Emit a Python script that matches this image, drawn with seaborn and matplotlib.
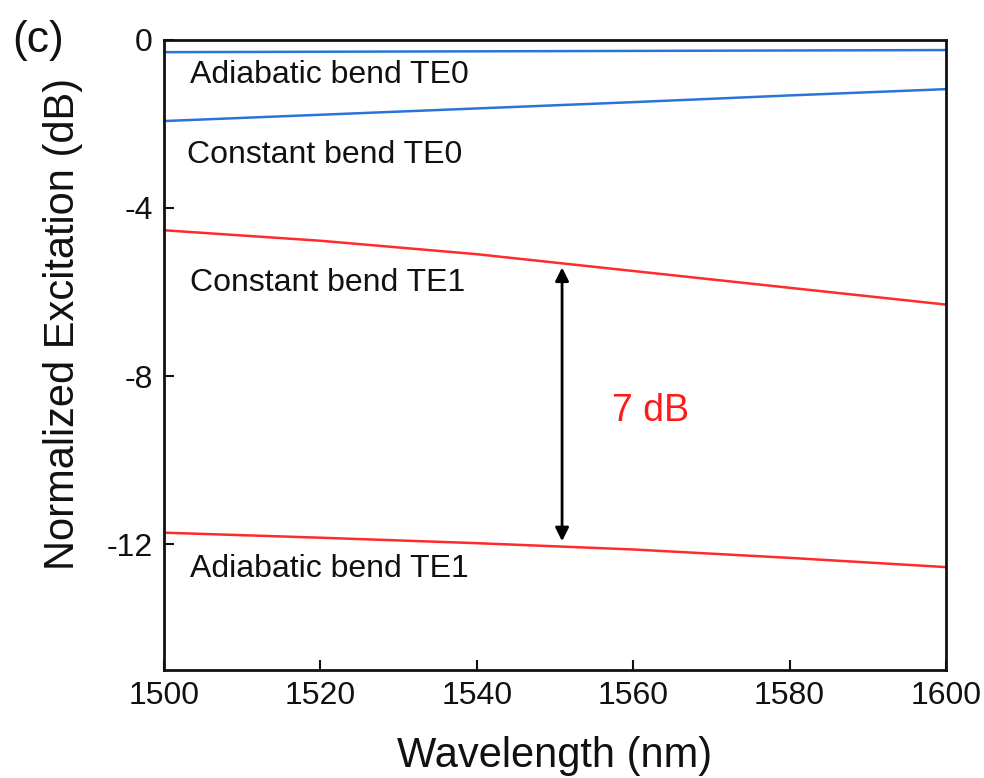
import numpy as np
import pandas as pd
import seaborn as sns
import matplotlib.pyplot as plt

# wavelength samples (nm)
wavelength = [1500, 1520, 1540, 1560, 1580, 1600]

# normalized excitation (dB)
adiabatic_te0 = [-0.29, -0.28, -0.27, -0.26, -0.25, -0.24]
constant_te0 = [-1.93, -1.78, -1.63, -1.48, -1.32, -1.17]
constant_te1 = [-4.53, -4.78, -5.10, -5.50, -5.90, -6.30]
adiabatic_te1 = [-11.73, -11.85, -11.98, -12.13, -12.33, -12.55]

series_names = ["Adiabatic bend TE0", "Constant bend TE0", "Constant bend TE1", "Adiabatic bend TE1"]
series_colors = ["#2a74d9", "#2a74d9", "#ff2a2a", "#ff2a2a"]

df = pd.concat([
    pd.DataFrame({"wl": wavelength, "dB": vals, "curve": name})
    for name, vals in zip(series_names, [adiabatic_te0, constant_te0, constant_te1, adiabatic_te1])
])

sns.set_theme(style="ticks")
plt.rcParams["font.family"] = ["Liberation Sans", "DejaVu Sans"]
plt.rcParams["axes.unicode_minus"] = False

fig = plt.figure(figsize=(9.84, 7.78), dpi=100)
ax = fig.add_axes([0.1667, 0.1388, 0.7947, 0.8098])

sns.lineplot(data=df, x="wl", y="dB", hue="curve", palette=dict(zip(series_names, series_colors)),
             linewidth=1.8, legend=False, ax=ax)

ax.set_xlim(1500, 1600)
ax.set_ylim(-15, 0)
ax.set_xticks([1500, 1520, 1540, 1560, 1580, 1600])
ax.set_yticks([0, -4, -8, -12])
ax.tick_params(direction="in", length=7, width=1.5, labelsize=23, colors="#111111", pad=8)
for s in ax.spines.values():
    s.set_linewidth(2)
    s.set_color("#111111")

ax.set_xlabel("Wavelength (nm)", fontsize=30, color="#111111")
ax.set_ylabel("Normalized Excitation (dB)", fontsize=30, color="#111111")
ax.xaxis.set_label_coords(0.5, -0.104)
ax.yaxis.set_label_coords(-0.104, 0.55)

# curve labels
lab = dict(fontsize=23, va="center", color="#111111")
ax.text(1503.3, -0.84, "Adiabatic bend TE0", **lab)
ax.text(1502.9, -2.74, "Constant bend TE0", **lab)
ax.text(1503.3, -5.78, "Constant bend TE1", **lab)
ax.text(1503.3, -12.6, "Adiabatic bend TE1", **lab)

# 7 dB difference arrow
ax.annotate("", xy=(1550.9, -5.35), xytext=(1550.9, -12.0),
            arrowprops=dict(arrowstyle="<|-|>", color="black", lw=2, mutation_scale=20))
ax.text(1562.2, -8.83, "7 dB", fontsize=27, color="#ff1a1a", ha="center", va="center")

fig.text(0.012, 0.948, "(c)", fontsize=32, color="#111111", va="center")

fig.savefig("out.png", dpi=100)
